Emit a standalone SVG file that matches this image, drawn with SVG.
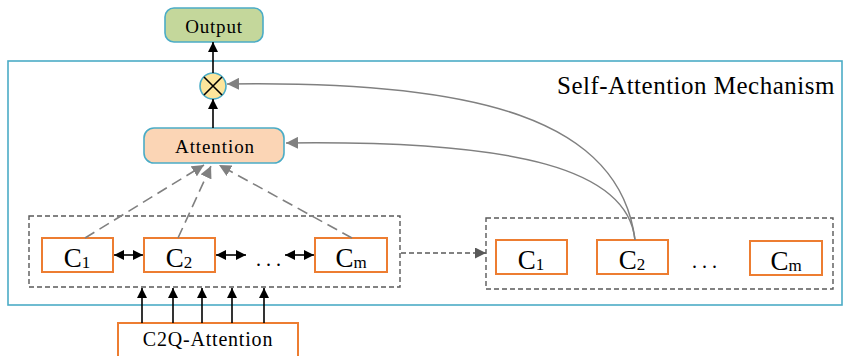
<svg xmlns="http://www.w3.org/2000/svg" width="845" height="356" viewBox="0 0 845 356">
<defs>
<style>
text{font-family:"Liberation Serif","Times New Roman",serif;fill:#000}
.blue{stroke:#4bacc6;stroke-width:1.6}
.c{fill:#fff;stroke:#ed7d31;stroke-width:2}
.dbox{fill:none;stroke:#595959;stroke-width:1.4;stroke-dasharray:5,3}
.blk{stroke:#000;stroke-width:1.6;fill:none}
.gd{stroke:#808080;stroke-width:1.6;stroke-dasharray:11,6;fill:none}
.gc{stroke:#808080;stroke-width:1.5;fill:none}
.lab{font-size:27px;text-anchor:middle}
.sub{font-size:17px}
.dots{font-size:20px;letter-spacing:5px;text-anchor:middle}
</style>
<marker id="ab" viewBox="0 0 10 10" refX="10" refY="5" markerWidth="10" markerHeight="10" markerUnits="userSpaceOnUse" orient="auto-start-reverse"><path d="M0,0L10,5L0,10z" fill="#000"/></marker>
<marker id="ag" viewBox="0 0 10 10" refX="10" refY="5" markerWidth="12" markerHeight="12" markerUnits="userSpaceOnUse" orient="auto"><path d="M0,0L10,5L0,10z" fill="#808080"/></marker>
<marker id="ad" viewBox="0 0 10 10" refX="10" refY="5" markerWidth="11" markerHeight="11" markerUnits="userSpaceOnUse" orient="auto"><path d="M0,0L10,5L0,10z" fill="#595959"/></marker>
</defs>
<rect width="845" height="356" fill="#fff"/>

<g id="frame">
<rect x="8" y="61" width="834" height="244" fill="none" class="blue"/>
<text x="557" y="94" style="font-size:25px;letter-spacing:0.5px">Self-Attention Mechanism</text>
</g>

<g id="output">
<rect x="165" y="8" width="98" height="34" rx="9" fill="#c4d79b" class="blue"/>
<text x="214" y="33" style="font-size:19px;letter-spacing:0.8px" text-anchor="middle">Output</text>
</g>

<g id="multiply">
<circle cx="213" cy="86" r="13" fill="#fde59b" class="blue"/>
<path d="M204,77L222,95M222,77L204,95" stroke="#000" stroke-width="1.6"/>
</g>

<g id="attention">
<rect x="144" y="128" width="140" height="35" rx="10" fill="#fbd5b5" class="blue"/>
<text x="215" y="153" style="font-size:19px;letter-spacing:0.9px" text-anchor="middle">Attention</text>
</g>

<g id="left-group">
<rect x="29" y="216" width="371" height="71" class="dbox"/>
</g>
<g id="c1">
<rect x="42" y="238" width="71" height="34" class="c"/>
<text x="77" y="267" class="lab">C<tspan class="sub" dy="1">1</tspan></text>
</g>
<g id="c2">
<rect x="144" y="238" width="71" height="34" class="c"/>
<text x="179" y="267" class="lab">C<tspan class="sub" dy="1">2</tspan></text>
</g>
<g id="dots-left">
<text x="271" y="266" class="dots">...</text>
</g>
<g id="cm">
<rect x="315" y="238" width="72" height="34" class="c"/>
<text x="351" y="267" class="lab">C<tspan class="sub" dy="1">m</tspan></text>
</g>

<g id="right-group">
<rect x="486" y="218" width="347" height="71" class="dbox"/>
</g>
<g id="rc1">
<rect x="496" y="240" width="71" height="34" class="c"/>
<text x="531" y="269" class="lab">C<tspan class="sub" dy="1">1</tspan></text>
</g>
<g id="rc2">
<rect x="597" y="240" width="71" height="34" class="c"/>
<text x="632" y="269" class="lab">C<tspan class="sub" dy="1">2</tspan></text>
</g>
<g id="dots-right">
<text x="707" y="268" class="dots">...</text>
</g>
<g id="rcm">
<rect x="750" y="241" width="72" height="34" class="c"/>
<text x="786" y="270" class="lab">C<tspan class="sub" dy="1">m</tspan></text>
</g>

<g id="c2q">
<rect x="118" y="323" width="180" height="40" class="c"/>
<text x="208" y="346" style="font-size:20px;letter-spacing:0.8px" text-anchor="middle">C2Q-Attention</text>
</g>

<g id="connectors">
<line x1="213" y1="128" x2="213" y2="99" class="blk" marker-end="url(#ab)"/>
<line x1="213" y1="73" x2="213" y2="42" class="blk" marker-end="url(#ab)"/>
<line x1="114" y1="255" x2="143" y2="255" class="blk" marker-start="url(#ab)" marker-end="url(#ab)"/>
<line x1="216" y1="255" x2="246" y2="255" class="blk" marker-start="url(#ab)" marker-end="url(#ab)"/>
<line x1="285" y1="255" x2="314" y2="255" class="blk" marker-start="url(#ab)" marker-end="url(#ab)"/>
<line x1="142" y1="323" x2="142" y2="288" class="blk" marker-end="url(#ab)"/>
<line x1="173" y1="323" x2="173" y2="288" class="blk" marker-end="url(#ab)"/>
<line x1="202" y1="323" x2="202" y2="288" class="blk" marker-end="url(#ab)"/>
<line x1="232" y1="323" x2="232" y2="288" class="blk" marker-end="url(#ab)"/>
<line x1="264" y1="323" x2="264" y2="288" class="blk" marker-end="url(#ab)"/>
<line x1="85" y1="238" x2="204" y2="165" class="gd" marker-end="url(#ag)"/>
<line x1="178" y1="238" x2="211" y2="166" class="gd" marker-end="url(#ag)"/>
<line x1="352" y1="238" x2="219" y2="165" class="gd" marker-end="url(#ag)"/>
<line x1="401" y1="253" x2="486" y2="253" stroke="#595959" stroke-width="1.4" stroke-dasharray="5,3" marker-end="url(#ad)"/>
<path d="M635,240C628,170 520,140 286,143" class="gc" marker-end="url(#ag)"/>
<path d="M635,240C620,120 480,80 227,84" class="gc" marker-end="url(#ag)"/>
</g>
</svg>
